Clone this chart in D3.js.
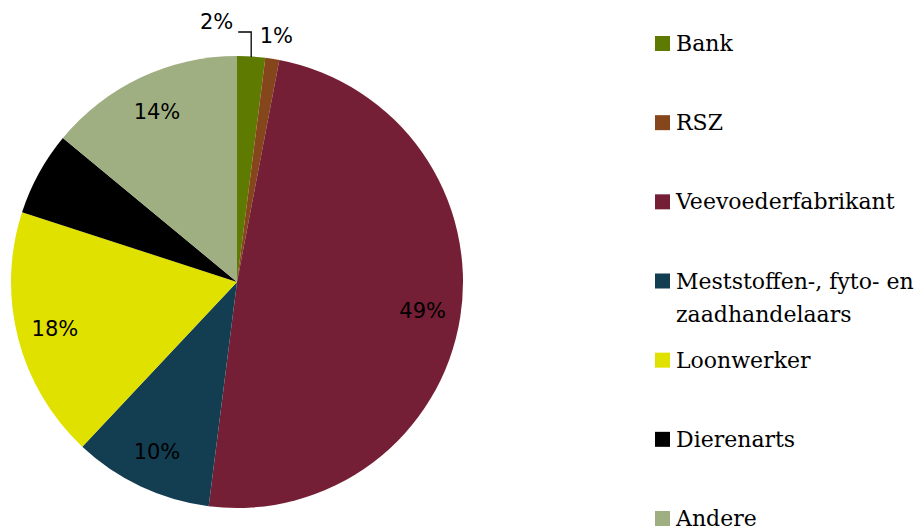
<!DOCTYPE html>
<html>
<head>
<meta charset="utf-8">
<script src="https://cdn.jsdelivr.net/npm/d3@7"></script>
<style>
  body { margin: 0; background: #fff; }
  .pct { font-family: "DejaVu Sans", sans-serif; font-size: 21px; fill: #000; }
  .leg { font-family: "DejaVu Serif", serif; font-size: 22px; fill: #000; }
</style>
</head>
<body>
<svg id="chart" width="917" height="530"></svg>
<script>
const categories = ['Bank', 'RSZ', 'Veevoederfabrikant', 'Meststoffen-, fyto- en zaadhandelaars', 'Loonwerker', 'Dierenarts', 'Andere']
const values = [2, 1, 49, 10, 18, 6, 14]
const colors = ['#5f7a00', '#86461b', '#741f35', '#133d51', '#e1e100', '#000000', '#a0af82']

const svg = d3.select('#chart')
const cx = 237, cy = 282, radius = 226

const data = categories.map((c, i) => ({name: c, value: values[i], color: colors[i]}))

const pie = d3.pie().value(d => d.value).sort(null)
const arcs = pie(data)
const arc = d3.arc().innerRadius(0).outerRadius(radius)
const labelArc = d3.arc().innerRadius(188).outerRadius(188)

const g = svg.append('g').attr('transform', `translate(${cx},${cy})`)

g.selectAll('path.slice')
    .data(arcs)
    .enter().append('path')
    .attr('class', 'slice')
    .attr('d', arc)
    .attr('fill', d => d.data.color)

// inside labels (dierenarts label is black on black in the original, skip it)
const inside = arcs.filter(d => d.data.value >= 10)
g.selectAll('text.pct-in')
    .data(inside)
    .enter().append('text')
    .attr('class', 'pct')
    .attr('text-anchor', 'middle')
    .attr('dominant-baseline', 'central')
    .attr('x', d => labelArc.centroid(d)[0])
    .attr('y', d => labelArc.centroid(d)[1])
    .text(d => d.data.value + '%')

// small slices get outside labels
const bank = arcs[0], rsz = arcs[1]
const bankMid = (bank.startAngle + bank.endAngle) / 2
const bx = Math.sin(bankMid) * radius
g.append('path')
    .attr('d', `M${bx - 13},${32 - cy}H${bx}V${-radius + 1}`)
    .attr('fill', 'none')
    .attr('stroke', '#000')
    .attr('stroke-width', 1.3)
g.append('text')
    .attr('class', 'pct')
    .attr('text-anchor', 'end')
    .attr('x', bx - 18)
    .attr('y', 22 - cy)
    .attr('dominant-baseline', 'central')
    .text(bank.data.value + '%')

const rszMid = (rsz.startAngle + rsz.endAngle) / 2
g.append('text')
    .attr('class', 'pct')
    .attr('text-anchor', 'middle')
    .attr('dominant-baseline', 'central')
    .attr('x', Math.sin(rszMid) * radius + 4)
    .attr('y', 36 - cy)
    .text(rsz.data.value + '%')

// legend
const legendY = d3.scalePoint().domain(categories).range([44, 519])
const leg = svg.append('g')
const items = leg.selectAll('g.item')
    .data(data)
    .enter().append('g')
    .attr('class', 'item')
    .attr('transform', d => `translate(655,${legendY(d.name)})`)

items.append('rect')
    .attr('x', 0).attr('y', -8)
    .attr('width', 15).attr('height', 15)
    .attr('fill', d => d.color)

items.each(function(d) {
    const t = d3.select(this).append('text')
        .attr('class', 'leg')
        .attr('x', 21)
        .attr('y', 7)
    if (d.name.startsWith('Meststoffen')) {
        t.append('tspan').attr('x', 21).text('Meststoffen-, fyto- en')
        t.append('tspan').attr('x', 21).attr('dy', 33).text('zaadhandelaars')
    } else {
        t.text(d.name)
    }
})
</script>
</body>
</html>
